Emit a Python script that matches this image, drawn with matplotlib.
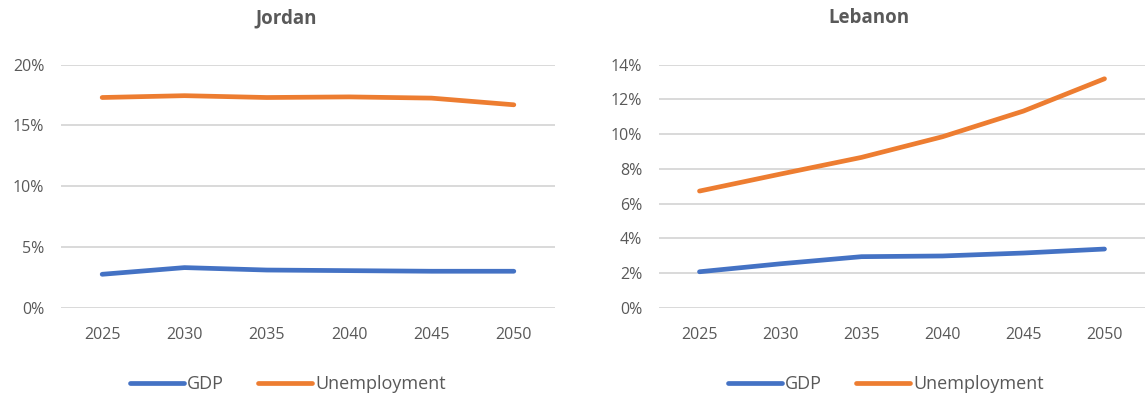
import matplotlib
matplotlib.use("Agg")
import matplotlib.pyplot as plt
from matplotlib.ticker import FuncFormatter

# 年次(カテゴリ軸)
YEARS = ["2025", "2030", "2035", "2040", "2045", "2050"]

# ヨルダン (%)
JORDAN_GDP = [2.75, 3.3, 3.1, 3.05, 3.0, 3.0]
JORDAN_UNEMP = [17.3, 17.45, 17.3, 17.35, 17.25, 16.7]

# レバノン (%)
LEBANON_GDP = [2.07, 2.53, 2.94, 2.98, 3.15, 3.38]
LEBANON_UNEMP = [6.72, 7.7, 8.66, 9.85, 11.33, 13.19]

BLUE = "#4472C4"
ORANGE = "#ED7D31"
GREY = "#595959"
GRID = "#D9D9D9"

plt.rcParams['font.family'] = ['Open Sans', 'DejaVu Sans']

W, H = 1145, 396
fig = plt.figure(figsize=(W / 100, H / 100), dpi=100)

# 各グラフの描画領域(ピクセル指定)
def AxesRect(left, right, top, bottom):
    return [left / W, (H - bottom) / H, (right - left) / W, (bottom - top) / H]

def DrawPanel(ax, title, titleX, gdp, unemp, ymax, ystep, legendX):
    x = range(len(YEARS))
    ax.plot(x, gdp, color=BLUE, lw=3.4, solid_capstyle='round', label="GDP")
    ax.plot(x, unemp, color=ORANGE, lw=3.4, solid_capstyle='round', label="Unemployment")
    ax.set_xlim(-0.5, len(YEARS) - 0.5)
    ax.set_ylim(0, ymax)
    ax.set_yticks([v for v in range(0, ymax + 1, ystep)])
    ax.yaxis.set_major_formatter(FuncFormatter(lambda v, p: "%d%%" % v))
    ax.set_xticks(list(x))
    ax.set_xticklabels(YEARS)
    ax.grid(axis='y', color=GRID, lw=1.4)
    ax.set_axisbelow(True)
    for s in ax.spines.values():
        s.set_visible(False)
    ax.tick_params(length=0, colors=GREY, labelsize=11.5)
    ax.tick_params(axis='y', pad=12)
    ax.tick_params(axis='x', pad=14)
    # タイトルは図の上端付近に固定
    fig.text(titleX / W, 1 - 18 / H, title, color=GREY, fontsize=13.5,
             fontweight='bold', ha='center', va='center')
    ax.legend(loc='center', bbox_to_anchor=(legendX / W, 1 - 384 / H),
              bbox_transform=fig.transFigure, ncol=2, frameon=False,
              fontsize=13, labelcolor=GREY, handlelength=3.0,
              handletextpad=0.15, columnspacing=1.9)

axL = fig.add_axes(AxesRect(61, 555, 64.7, 307.7))
axR = fig.add_axes(AxesRect(659, 1145, 64.7, 307.7))

DrawPanel(axL, "Jordan", 286, JORDAN_GDP, JORDAN_UNEMP, 20, 5, 288)
DrawPanel(axR, "Lebanon", 869, LEBANON_GDP, LEBANON_UNEMP, 14, 2, 886)

fig.savefig("out.png", dpi=100)
